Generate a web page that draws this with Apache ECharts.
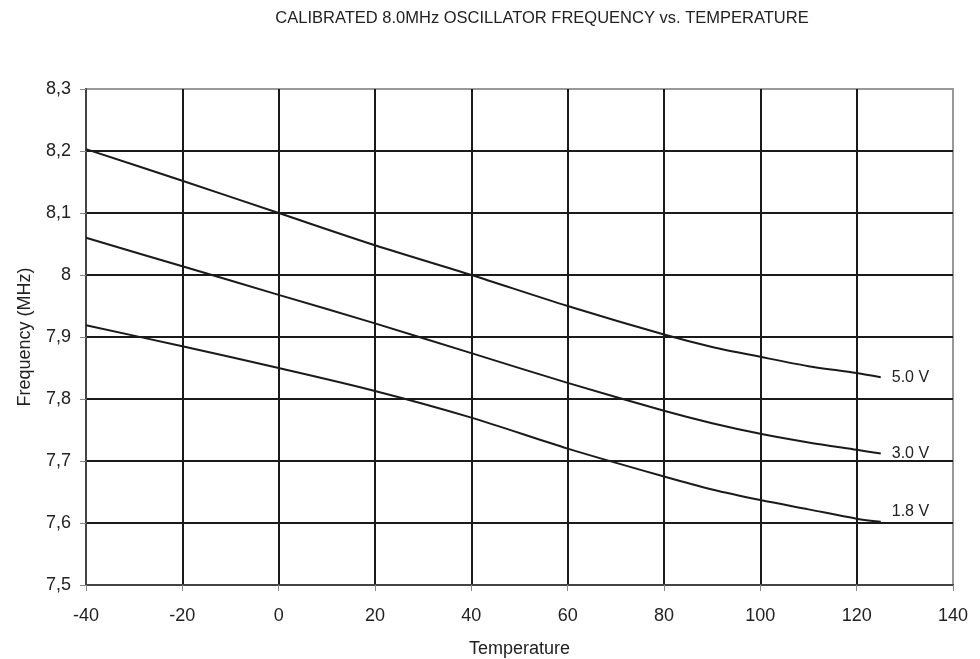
<!DOCTYPE html>
<html>
<head>
<meta charset="utf-8">
<title>Calibrated 8.0MHz oscillator frequency vs. temperature</title>
<script src="https://cdn.jsdelivr.net/npm/echarts@6/dist/echarts.min.js"></script>
<style>
  html, body { margin: 0; padding: 0; background: #fff; }
  #chart { width: 980px; height: 659px; }
</style>
</head>
<body>
<div id="chart"></div>
<script>
// temperature points
var temps = [-40, -20, 0, 20, 40, 60, 80, 90, 100, 110, 120, 125];
// frequency (MHz) per supply voltage
var v50 = [8.203, 8.152, 8.100, 8.048, 8.000, 7.950, 7.904, 7.884, 7.868, 7.853, 7.842, 7.835];
var v30 = [8.060, 8.014, 7.968, 7.922, 7.874, 7.826, 7.781, 7.761, 7.744, 7.730, 7.718, 7.712];
var v18 = [7.919, 7.885, 7.850, 7.813, 7.770, 7.720, 7.675, 7.654, 7.637, 7.622, 7.607, 7.602];
var seriesNames = ['5.0 V', '3.0 V', '1.8 V'];

function pairs(vals) {
  return temps.map(function (t, i) { return [t, vals[i]]; });
}

var font = '"Liberation Sans", Arial, sans-serif';
var chart = echarts.init(document.getElementById('chart'));

function lineSeries(name, vals, labelShift) {
  return {
    name: name,
    type: 'line',
    data: pairs(vals),
    smooth: 0.3,
    symbol: 'none',
    lineStyle: { color: '#1a1a1a', width: 2 },
    endLabel: {
      show: true,
      formatter: '{a}',
      color: '#222',
      fontFamily: font,
      fontSize: 16,
      distance: 11,
      offset: [0, labelShift || 0]
    },
    z: 3
  };
}

chart.setOption({
  backgroundColor: '#fff',
  animation: false,
  title: {
    text: 'CALIBRATED 8.0MHz OSCILLATOR FREQUENCY vs. TEMPERATURE',
    left: 537,
    textAlign: 'center',
    top: 5,
    textStyle: {
      color: '#222',
      fontFamily: font,
      fontSize: 16.5,
      fontWeight: 'normal'
    }
  },
  grid: {
    left: 86,
    right: 27,
    top: 89,
    bottom: 74,
    containLabel: false,
    outerBoundsMode: 'none',
    show: true,
    borderColor: '#999',
    borderWidth: 2
  },
  xAxis: {
    type: 'value',
    min: -40,
    max: 140,
    interval: 20,
    name: 'Temperature',
    nameLocation: 'middle',
    nameGap: 55,
    nameTextStyle: { color: '#222', fontFamily: font, fontSize: 18 },
    axisLine: { onZero: false, lineStyle: { color: '#444', width: 2 } },
    axisTick: { length: 6, lineStyle: { color: '#888', width: 1 } },
    axisLabel: { color: '#222', fontFamily: font, fontSize: 18, margin: 22 },
    splitLine: {
      show: true,
      showMinLine: false,
      showMaxLine: false,
      lineStyle: { color: '#1a1a1a', width: 2 }
    }
  },
  yAxis: {
    type: 'value',
    min: 7.5,
    max: 8.3,
    interval: 0.1,
    name: 'Frequency (MHz)',
    nameLocation: 'middle',
    nameGap: 52,
    nameTextStyle: { color: '#222', fontFamily: font, fontSize: 18 },
    axisLine: { show: true, onZero: false, lineStyle: { color: '#444', width: 2 } },
    axisTick: { show: true, length: 6, lineStyle: { color: '#888', width: 1 } },
    axisLabel: {
      color: '#222',
      fontFamily: font,
      fontSize: 18,
      margin: 15,
      formatter: function (v) {
        var s = (Math.round(v * 10) / 10).toString();
        return s.replace('.', ',');
      }
    },
    splitLine: {
      show: true,
      showMinLine: false,
      showMaxLine: false,
      lineStyle: { color: '#1a1a1a', width: 2 }
    }
  },
  series: [
    lineSeries(seriesNames[0], v50, 0),
    lineSeries(seriesNames[1], v30, 0),
    lineSeries(seriesNames[2], v18, -10)
  ]
});
</script>
</body>
</html>
